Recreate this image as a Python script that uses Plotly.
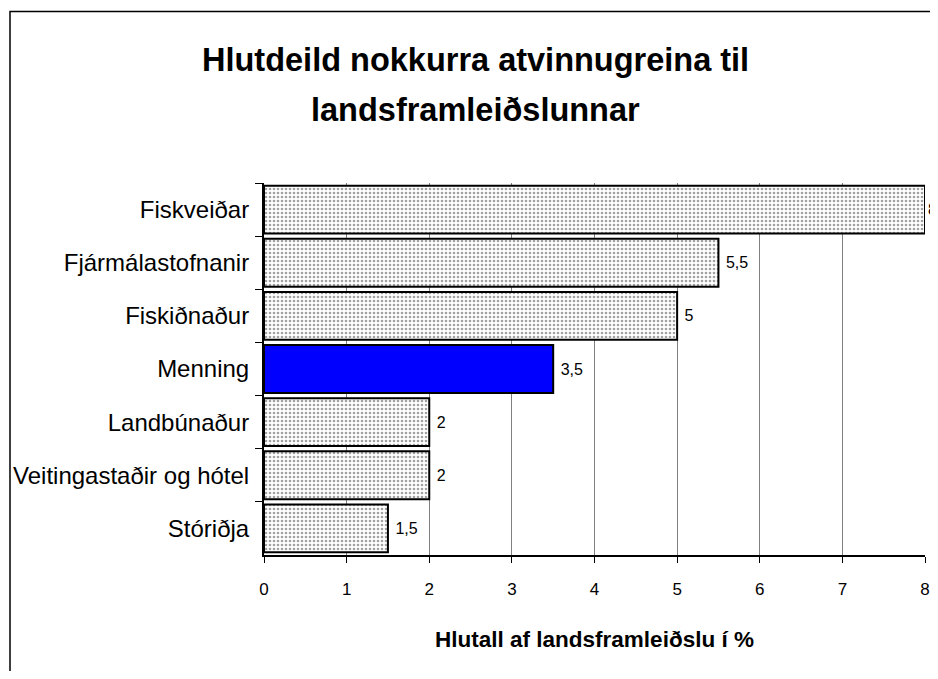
import plotly.graph_objects as go

categories = ["Fiskveiðar", "Fjármálastofnanir", "Fiskiðnaður", "Menning",
              "Landbúnaður", "Veitingastaðir og hótel", "Stóriðja"]
values = [8, 5.5, 5, 3.5, 2, 2, 1.5]
highlight = "Menning"
x_ticks = [0, 1, 2, 3, 4, 5, 6, 7, 8]
title_lines = ["Hlutdeild nokkurra atvinnugreina til", "landsframleiðslunnar"]
x_title = "Hlutall af landsframleiðslu í %"

FONT = "Liberation Sans, Arial, sans-serif"

colors = ["#0000FF" if c == highlight else "white" for c in categories]
shapes_p = ["" if c == highlight else "." for c in categories]
# the label of the bar that reaches the right edge hugs the bar end
templates = ["%{x}" if v >= max(values) else " %{x}" for v in values]

fig = go.Figure(go.Bar(
    y=categories, x=values, orientation="h",
    marker=dict(color=colors, line=dict(color="black", width=2),
                pattern=dict(shape=shapes_p, fgcolor="#8a8a8a", bgcolor="white",
                             size=4, solidity=0.35)),
    width=0.9,
    text=values, texttemplate=templates, textposition="outside",
    textfont=dict(family=FONT, size=16, color="black"),
    constraintext="none",
    cliponaxis=False,
))

# page has an 8px body margin, so figure coords = reference coords - 8
W, H = 922, 663
L, R, T, B = 256, 5, 175, 116
pw, ph = W - L - R, H - T - B

def px2x(px):
    return (px - L) / pw

def py2y(py):
    return (H - py - B) / ph

annots = [
    dict(text="<b>%s</b>" % title_lines[0], xref="paper", yref="paper",
         x=px2x(467), y=py2y(52), xanchor="center", yanchor="middle",
         showarrow=False, font=dict(size=32.5, family=FONT, color="black")),
    dict(text="<b>%s</b>" % title_lines[1], xref="paper", yref="paper",
         x=px2x(467), y=py2y(102), xanchor="center", yanchor="middle",
         showarrow=False, font=dict(size=32.5, family=FONT, color="black")),
]

fig.update_layout(
    width=W, height=H,
    margin=dict(l=L, r=R, t=T, b=B, autoexpand=False),
    paper_bgcolor="white", plot_bgcolor="white",
    separators=", ",
    showlegend=False,
    font=dict(family=FONT, color="black"),
    annotations=annots,
    xaxis=dict(range=[0, 8], tickvals=x_ticks, showgrid=True, gridcolor="#808080",
               gridwidth=1, zeroline=False, showline=True, linecolor="black", linewidth=2,
               ticks="outside", ticklen=6, tickcolor="black", automargin=False,
               ticklabeloverflow="allow",
               tickfont=dict(size=17, family=FONT), ticklabelstandoff=12,
               title=dict(text="<b>%s</b>" % x_title,
                          font=dict(size=22.5, family=FONT), standoff=33)),
    yaxis=dict(categoryorder="array", categoryarray=categories, autorange="reversed",
               showline=True, linecolor="black", linewidth=2, ticks="outside",
               tickson="boundaries", ticklen=7, tickcolor="black", automargin=False,
               tickfont=dict(size=24, family=FONT), ticklabelstandoff=8,
               showgrid=False),
    shapes=[dict(type="rect", xref="paper", yref="paper",
                 x0=px2x(2), x1=px2x(930), y0=py2y(670), y1=py2y(3.5),
                 line=dict(color="black", width=1.5), layer="below")],
)

fig.write_html("out.html")
